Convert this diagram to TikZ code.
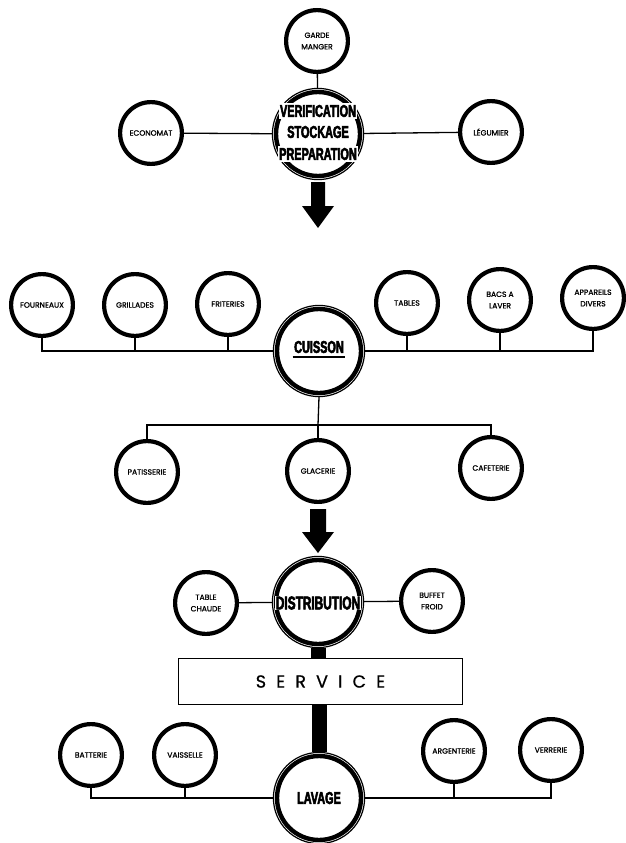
\documentclass[tikz,border=0pt]{standalone}
\usepackage{fontspec}
\setmainfont{Poppins}[FakeBold=1.2]
\newfontfamily\condfont{Liberation Sans}[FakeStretch=0.64,FakeBold=3]
\newfontfamily\servfont{Poppins}[LetterSpace=58,FakeBold=0.8]
\usetikzlibrary{calc}
\tikzset{
  leaf/.style={circle, draw, line width=4.2pt, minimum size=61.8pt, inner sep=0pt, align=center,
    font=\fontsize{7.6}{11.5}\selectfont},
  hub/.style={circle, draw, line width=4.4pt, minimum size=84pt, inner sep=0pt, outer sep=4pt},
  hubring/.style={line width=1.2pt},
  hubtext/.style={font=\condfont\bfseries\fontsize{17}{17}\selectfont, inner sep=1.5pt, fill=white},
  link/.style={line width=1.3pt},
  bar/.style={line width=15pt},
  fatarrow/.style={fill=black},
}
\begin{document}
\begin{tikzpicture}[x=1pt,y=-1pt]
\useasboundingbox[fill=white] (0,0) rectangle (626,843);

% ---------- top group ----------
\node[hub] (verif) at (318,134) {};
\node[leaf] (garde) at (317,41) {GARDE\\MANGER};
\node[leaf] (econ) at (151,133) {ECONOMAT};
\node[leaf] (legum) at (491,132) {LÉGUMIER};
\draw[link] (garde) -- (verif);
\draw[link] (econ) -- (verif);
\draw[link] (verif) -- (legum);

% ---------- cuisson group ----------
\node[hub] (cuisson) at (319,351) {};
\node[leaf] (fourn) at (42,305) {FOURNEAUX};
\node[leaf] (grill) at (135,305) {GRILLADES};
\node[leaf] (frit) at (228,304) {FRITERIES};
\node[leaf] (tables) at (407,303) {TABLES};
\node[leaf] (bacs) at (500,300) {BACS A\\LAVER};
\node[leaf] (appar) at (593,298) {APPAREILS\\DIVERS};
\draw[link] (fourn.south) |- (cuisson.west);
\draw[link] (grill.south) -- (grill.south |- cuisson.west);
\draw[link] (frit.south) -- (frit.south |- cuisson.west);
\draw[link] (cuisson.east) -| (appar.south);
\draw[link] (tables.south) -- (tables.south |- cuisson.east);
\draw[link] (bacs.south) -- (bacs.south |- cuisson.east);

% ---------- glacerie group ----------
\node[leaf] (pat) at (147,472) {PATISSERIE};
\node[leaf] (glac) at (318,471) {GLACERIE};
\node[leaf] (cafe) at (491,468) {CAFETERIE};
\coordinate (gbus) at (318,425);
\draw[link] (cuisson.south) -- (gbus);
\draw[link] (pat.north) |- (gbus) -| (cafe.north);
\draw[link] (glac.north) -- (glac.north |- gbus);

% ---------- distribution group ----------
\node[hub] (dist) at (318,602) {};
\node[leaf] (tablech) at (206,603) {TABLE\\CHAUDE};
\node[leaf] (buffet) at (432,601) {BUFFET\\FROID};
\draw[link] (tablech) -- (dist);
\draw[link] (dist) -- (buffet);

% ---------- service ----------
\node[draw, line width=1.2pt, fill=white, minimum width=284pt, minimum height=46pt, inner sep=0pt]
  (service) at (320.5,681.5) {\servfont\fontsize{17.5}{17.5}\selectfont SERVICE\hspace{-10pt}};

% ---------- lavage group ----------
\node[hub] (lavage) at (319,798) {};
\node[leaf] (batt) at (91,755) {BATTERIE};
\node[leaf] (vais) at (185,755) {VAISSELLE};
\node[leaf] (arg) at (454,751) {ARGENTERIE};
\node[leaf] (verr) at (551,750) {VERRERIE};
\draw[link] (batt.south) |- (lavage.west);
\draw[link] (vais.south) -- (vais.south |- lavage.west);
\draw[link] (lavage.east) -| (verr.south);
\draw[link] (arg.south) -- (arg.south |- lavage.east);

% ---------- bars ----------
\draw[bar] (dist.south) -- (dist.south |- service.north);
\draw[bar] (service.south -| lavage.north) -- (lavage.north);

% ---------- fat arrows ----------
\fill[fatarrow] ($(verif.south)+(-7,2)$) -- ++(14,0) -- ++(0,24) -- ++(9,0) -- ++(-16,22) -- ++(-16,-22) -- ++(9,0) -- cycle;
\fill[fatarrow] ($(glac.south)+(-8,5)$) -- ++(16,0) -- ++(0,23) -- ++(8,0) -- ++(-16,21) -- ++(-16,-21) -- ++(8,0) -- cycle;

% ---------- outer thin rings ----------
\foreach \n in {verif,cuisson,dist,lavage}
  \draw[hubring] (\n.center) circle[radius=45.6pt];

% ---------- hub texts ----------
\node[hubtext] (v1) at ($(verif.center)+(0,-23)$) {VERIFICATION};
\node[hubtext, fill=none] (v2) at ($(verif.center)+(0,-2)$) {STOCKAGE};
\node[hubtext] (v3) at ($(verif.center)+(0,20)$) {PREPARATION};
\node[hubtext, fill=none] (ctext) at ($(cuisson.center)+(0,-4)$) {CUISSON};
\draw[line width=1.8pt] ($(ctext.south west)+(0,2.5)$) -- ($(ctext.south east)+(0,2.5)$);
\node[hubtext, font=\condfont\bfseries\fontsize{18.5}{18.5}\selectfont, inner sep=0.8pt] (dtext) at ($(dist.center)+(0,1)$) {DISTRIBUTION};
\node[hubtext, fill=none] (ltext) at (lavage.center) {LAVAGE};
\end{tikzpicture}
\end{document}
